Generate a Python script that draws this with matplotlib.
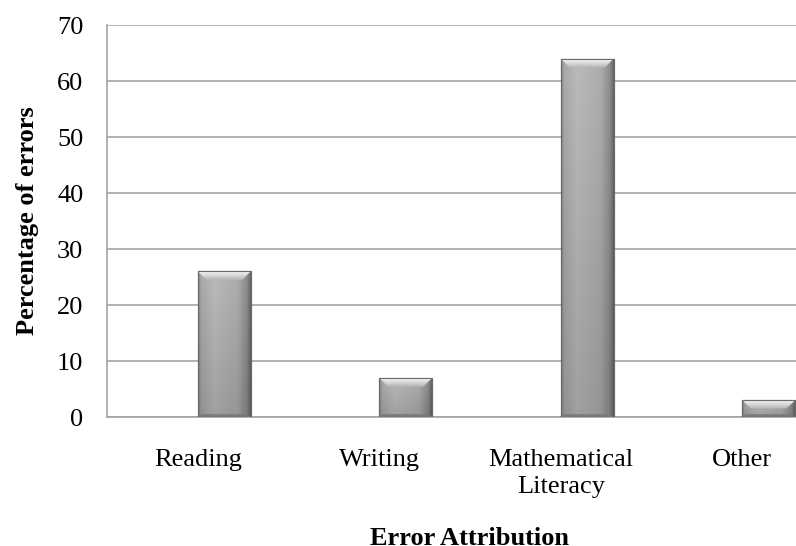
import numpy as np
import matplotlib
matplotlib.use("Agg")
import matplotlib.pyplot as plt
from matplotlib.patches import Polygon

categories = ["Reading", "Writing", "Mathematical\nLiteracy", "Other"]
percent = [26, 7, 64, 3]
yticks = [0, 10, 20, 30, 40, 50, 60, 70]

plt.rcParams['font.family'] = ['Liberation Serif', 'DejaVu Serif']

fig = plt.figure(figsize=(7.96, 5.46), dpi=100)
# axes run past the right edge of the picture, like the cropped original
ax = fig.add_axes([107 / 796, 1 - 417 / 546, 726 / 796, 392 / 546])

x = np.arange(len(categories))
bar_w = 0.292
bars = ax.bar(x, percent, width=bar_w, align='edge', color='#a9a9a9',
              edgecolor='#6a6a6a', linewidth=0.8, zorder=3)

ax.set_xlim(-0.5, 3.5)
ax.set_ylim(0, 70)

# shading of the bars: horizontal gradient, darker toward the bottom
u = np.linspace(0, 1, 80)
horiz = np.interp(u, [0, 0.05, 0.3, 0.75, 0.93, 1], [0.50, 0.66, 0.73, 0.68, 0.55, 0.40])
v = np.linspace(0, 1, 80)
vert = np.interp(v, [0, 1], [0.86, 1.0])
shade = vert[:, None] * horiz[None, :]

dx = 9 / 181.5
for bar in bars:
    x0 = bar.get_x()
    x1 = x0 + bar.get_width()
    h = bar.get_height()
    im = ax.imshow(shade, cmap='gray', vmin=0, vmax=1, origin='lower',
                   extent=[x0, x1, 0, h], aspect='auto', zorder=3.2)
    im.set_clip_path(bar)
    # top bevel
    dy = min(1.6, h * 0.5)
    top = Polygon([(x0, h), (x1, h), (x1 - dx, h - dy), (x0 + dx, h - dy)],
                  closed=True, facecolor='none', edgecolor='none', zorder=3.4)
    ax.add_patch(top)
    bev = np.linspace(0.70, 0.97, 30)[:, None] * np.ones((1, 10))
    im2 = ax.imshow(bev, cmap='gray', vmin=0, vmax=1, origin='lower',
                    extent=[x0, x1, h - dy, h], aspect='auto', zorder=3.4)
    im2.set_clip_path(top)
    # bottom bevel
    dyb = 0.5
    ax.add_patch(Polygon([(x0, 0), (x1, 0), (x1 - dx * 0.4, dyb), (x0 + dx * 0.4, dyb)],
                         closed=True, facecolor='#7a7a7a', edgecolor='none', zorder=3.5))
    ax.add_patch(plt.Rectangle((x0, 0), x1 - x0, h, fill=False, edgecolor='#6a6a6a',
                               linewidth=0.8, zorder=3.6))

ax.set_xlim(-0.5, 3.5)
ax.set_ylim(0, 70)
ax.set_yticks(yticks)
ax.set_xticks(x)
ax.set_xticklabels(categories, linespacing=1.3)
ax.tick_params(axis='both', length=0, labelsize=19)
ax.tick_params(axis='x', pad=23)
ax.tick_params(axis='y', pad=17)

ax.grid(axis='y', color='#a3a3a3', linewidth=1.2)
ax.set_axisbelow(True)
for s in ['top', 'right']:
    ax.spines[s].set_visible(False)
for s in ['left', 'bottom']:
    ax.spines[s].set_color('#a3a3a3')
    ax.spines[s].set_linewidth(1.2)

ax.set_ylabel('Percentage of errors', fontsize=19, fontweight='bold')
ax.yaxis.set_label_coords(-68 / 726, 0.5)
ax.set_xlabel('Error Attribution', fontsize=19, fontweight='bold')
ax.xaxis.set_label_coords(0.5, -(527 - 417) / 392)

fig.savefig('out.png', dpi=100)
